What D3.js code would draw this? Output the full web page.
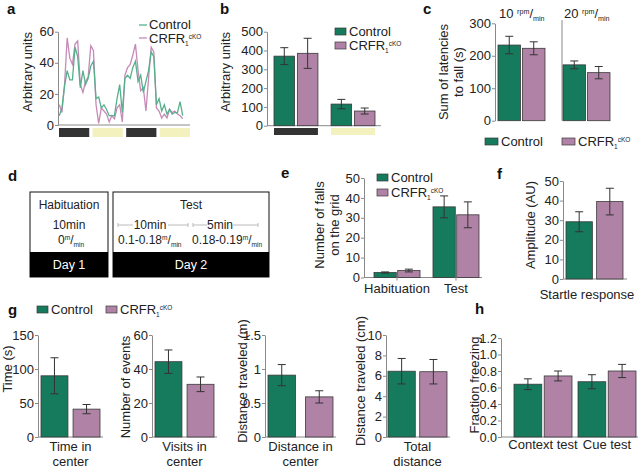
<!DOCTYPE html>
<html><head><meta charset="utf-8">
<script src="https://cdn.jsdelivr.net/npm/d3@7"></script>
<style>body{margin:0;background:#fff} svg{font-family:"Liberation Sans", Arial, sans-serif}</style>
</head><body><svg id="fig" width="640" height="471"></svg>
<script>
// ---------------- DATA ----------------
const groups = ["Control", "CRFR1cKO"];
// panel a: activity traces (48 bins across 4 phases)
const traceControl = [6,11,25,35,29,29,50,44,24,35,26,30,
                      38,41,17,18,11,13,10,6,6,6,17,26,
                      8,30,32,30,37,41,28,32,21,28,35,47,
                      44,13,17,9,13,7,10,7,8,8,15,6];
const traceCko =     [13,8,26,56,43,39,52,54,26,21,28,31,
                      51,48,13,1,11,9,7,2,6,4,11,13,
                      2,32,37,39,45,52,35,22,24,9,30,50,
                      47,11,9,4.5,7,4.5,10,8,9,7,6,4];
const aTicks = [0,20,40,60];
const phases = ["dark1","light1","dark2","light2"];
const phaseFill = ["#333333","#f3f1bd","#333333","#f3f1bd"];
// panel b
const bCategories = ["Dark","Light"];
const bControl = [370,115], bControlErr = [45,25];
const bCko = [385,78], bCkoErr = [80,16];
const bTicks = [0,100,200,300,400,500];
// panel c
const cCategories = ["10","20"];
const cControl = [233,172], cControlErr = [27,12];
const cCko = [223,148], cCkoErr = [20,19];
const cTicks = [0,100,200,300];
// panel e
const eCategories = ["Habituation","Test"];
const eControl = [2.5,35.5], eControlErr = [0.3,5.5];
const eCko = [3.5,31.5], eCkoErr = [0.7,6.5];
const eTicks = [0,10,20,30,40,50];
// panel f
const fCategories = ["Startle response"];
const fControl = [29.2], fControlErr = [5.1];
const fCko = [39.5], fCkoErr = [6.8];
const fTicks = [0,10,20,30,40,50];
// panel g
const g1Control = [90], g1ControlErr = [26.5], g1Cko = [41], g1CkoErr = [6.8];
const g1Ticks = [0,50,100,150];
const g2Control = [44.3], g2ControlErr = [6.9], g2Cko = [31], g2CkoErr = [4.3];
const g2Ticks = [0,20,40,60];
const g3Control = [0.91], g3ControlErr = [0.155], g3Cko = [0.59], g3CkoErr = [0.09];
const g3Ticks = [0,0.5,1,1.5];
const g4Control = [6.45], g4ControlErr = [1.25], g4Cko = [6.4], g4CkoErr = [1.2];
const g4Ticks = [0,2,4,6,8,10];
// panel h
const hCategories = ["Context test","Cue test"];
const hControl = [0.64,0.67], hControlErr = [0.065,0.085];
const hCko = [0.74,0.80], hCkoErr = [0.06,0.08];
const hTicks = [0,0.2,0.4,0.6,0.8,1.0,1.2];

// ---------------- STYLE ----------------
const FONT = "Liberation Sans, Arial, sans-serif";
const fillOf = {"Control":"#167a5d", "CRFR1cKO":"#b083a6"};
const lineOf = {"Control":"#56b08c", "CRFR1cKO":"#c68ab7"};
const AX = "#8a8a8a";
const TXT = "#222";
const svg = d3.select("#fig");

function txt(x, y, s, opt = {}) {
  return svg.append("text").attr("x", x).attr("y", y).text(s)
    .attr("font-size", opt.size || 13).attr("fill", opt.fill || TXT)
    .attr("text-anchor", opt.anchor || "start")
    .attr("font-weight", opt.weight || "normal");
}
function letter(x, y, s) { txt(x, y, s, {size: 15, weight: "bold", fill: "#111"}); }
function crfr(t, size) {
  t.text(null);
  t.append("tspan").text("CRFR");
  t.append("tspan").attr("font-size", size * 0.5).attr("dy", 3).text("1");
  t.append("tspan").attr("font-size", size * 0.5).attr("dy", -7.5).text("cKO");
}
function unit(t, sup, sub, size) {
  t.append("tspan").attr("font-size", size * 0.55).attr("dy", -4).text(sup);
  t.append("tspan").attr("font-size", size).attr("dy", 4).text("/");
  t.append("tspan").attr("font-size", size * 0.55).attr("dy", 3).text(sub);
}
function ylabel(cx, cy, lines, size = 13) {
  const t = svg.append("text").attr("transform", `translate(${cx},${cy}) rotate(-90)`)
    .attr("text-anchor", "middle").attr("font-size", size).attr("fill", TXT);
  const n = lines.length;
  lines.forEach((l, i) => {
    t.append("tspan").attr("x", 0).attr("y", (i - (n - 1) / 2) * 15).attr("dy", "0.35em").text(l);
  });
}
function yAxis(x, scale, ticks, fmt, size = 13) {
  const ax = svg.append("g").attr("transform", `translate(${x},0)`)
    .call(d3.axisLeft(scale).tickValues(ticks).tickFormat(fmt || d3.format("d"))
      .tickSize(3).tickSizeOuter(0).tickPadding(1));
  ax.attr("font-size", size).attr("font-family", FONT);
  ax.select(".domain").attr("stroke", AX);
  ax.selectAll(".tick line").attr("stroke", AX);
  ax.selectAll(".tick text").attr("fill", TXT);
  return ax;
}
function baseline(x0, x1, y) {
  svg.append("line").attr("x1", x0).attr("x2", x1).attr("y1", y).attr("y2", y).attr("stroke", AX);
}
function bars(cats, range, padInner, padBar, y, ctrl, ctrlErr, cko, ckoErr) {
  const outer = d3.scaleBand().domain(cats).range(range).paddingInner(padInner).paddingOuter(0);
  const inner = d3.scaleBand().domain(groups).range([0, outer.bandwidth()]).paddingInner(padBar).paddingOuter(0);
  const data = cats.flatMap((c, i) => [
    {c, grp: groups[0], v: ctrl[i], e: ctrlErr[i]},
    {c, grp: groups[1], v: cko[i], e: ckoErr[i]}]);
  const g = svg.append("g");
  g.selectAll("rect").data(data).join("rect")
    .attr("x", d => outer(d.c) + inner(d.grp)).attr("width", inner.bandwidth())
    .attr("y", d => y(d.v)).attr("height", d => y(0) - y(d.v))
    .attr("fill", d => fillOf[d.grp]).attr("stroke", "#3a3a3a").attr("stroke-width", 0.8);
  const eb = g.selectAll("g.eb").data(data).join("g").attr("class", "eb")
    .attr("transform", d => `translate(${outer(d.c) + inner(d.grp) + inner.bandwidth() / 2},0)`);
  eb.append("line").attr("y1", d => y(d.v - d.e)).attr("y2", d => y(d.v + d.e)).attr("stroke", "#333");
  eb.append("line").attr("x1", -4).attr("x2", 4).attr("y1", d => y(d.v + d.e)).attr("y2", d => y(d.v + d.e)).attr("stroke", "#333");
  eb.append("line").attr("x1", -4).attr("x2", 4).attr("y1", d => y(d.v - d.e)).attr("y2", d => y(d.v - d.e)).attr("stroke", "#333");
  return {outer, inner};
}
function legendSquares(items) {
  items.forEach(it => {
    svg.append("rect").attr("x", it.x).attr("y", it.y - 8).attr("width", it.w || 11).attr("height", 7)
      .attr("fill", fillOf[it.grp]).attr("stroke", "#3a3a3a").attr("stroke-width", 0.7);
    const t = txt(it.x + (it.w || 11) + 3, it.y, it.grp);
    if (it.grp !== "Control") crfr(t, 13);
  });
}

// ---------------- PANEL a ----------------
letter(7, 14, "a");
{
  const x = d3.scaleLinear().domain([0, traceControl.length - 1]).range([59.3, 182.7]);
  const y = d3.scaleLinear().domain([0, 60]).range([125, 31.7]);
  yAxis(58, y, aTicks);
  baseline(58, 190, 125);
  const line = d3.line().x((d, i) => x(i)).y(d => y(d));
  svg.append("path").datum(traceCko).attr("d", line).attr("fill", "none").attr("stroke", lineOf["CRFR1cKO"]).attr("stroke-width", 1.3);
  svg.append("path").datum(traceControl).attr("d", line).attr("fill", "none").attr("stroke", lineOf["Control"]).attr("stroke-width", 1.3);
  const px = d3.scaleBand().domain(phases).range([59, 190]).paddingInner(0.1);
  svg.selectAll("rect.ph").data(phases).join("rect").attr("class", "ph")
    .attr("x", d => px(d)).attr("width", px.bandwidth()).attr("y", 128).attr("height", 9)
    .attr("fill", (d, i) => phaseFill[i]);
  ylabel(27, 72, ["Arbitrary units"]);
  [["Control", 29, 25], ["CRFR1cKO", 43, 38]].forEach(([g, ty, ly]) => {
    svg.append("line").attr("x1", 139).attr("x2", 147).attr("y1", ly).attr("y2", ly).attr("stroke", lineOf[g]).attr("stroke-width", 1.3);
    const t = txt(149, ty, g);
    if (g !== "Control") crfr(t, 13);
  });
}

// ---------------- PANEL b ----------------
letter(220, 14, "b");
{
  const y = d3.scaleLinear().domain([0, 500]).range([125.7, 31.7]);
  yAxis(267, y, bTicks);
  baseline(267, 381, 125.7);
  const {outer} = bars(bCategories, [274, 375], 0.23, 0.12, y, bControl, bControlErr, bCko, bCkoErr);
  svg.selectAll("rect.bp").data(bCategories).join("rect").attr("class", "bp")
    .attr("x", d => outer(d)).attr("width", outer.bandwidth()).attr("y", 128).attr("height", 7)
    .attr("fill", (d, i) => i === 0 ? "#333" : "#f3f1bd");
  ylabel(225, 72, ["Arbitrary units"]);
  legendSquares([{grp: "Control", x: 335, y: 36}, {grp: "CRFR1cKO", x: 335, y: 50}]);
}

// ---------------- PANEL c ----------------
letter(423, 14, "c");
{
  const y = d3.scaleLinear().domain([0, 300]).range([120.7, 23.3]);
  yAxis(495, y, cTicks);
  svg.append("line").attr("x1", 562).attr("x2", 562).attr("y1", 20).attr("y2", 120.7).attr("stroke", AX);
  const {outer} = bars(cCategories, [498, 610], 0.277, 0.08, y, cControl, cControlErr, cCko, cCkoErr);
  cCategories.forEach(c => {
    const t = txt(outer(c) + 1, 18, c + " ");
    unit(t, "rpm", "min", 13);
  });
  ylabel(451, 72, ["Sum of latencies", "to fall (s)"]);
  legendSquares([{grp: "Control", x: 485, y: 146, w: 13}, {grp: "CRFR1cKO", x: 562, y: 146, w: 13}]);
}

// ---------------- PANEL d ----------------
letter(8, 181, "d");
{
  const boxes = [{x: 30, w: 78, day: "Day 1"}, {x: 113, w: 156, day: "Day 2"}];
  boxes.forEach(b => {
    svg.append("rect").attr("x", b.x).attr("y", 192).attr("width", b.w).attr("height", 85).attr("fill", "#fff").attr("stroke", "#111");
    svg.append("rect").attr("x", b.x).attr("y", 252).attr("width", b.w).attr("height", 25).attr("fill", "#000");
    txt(b.x + b.w / 2, 269, b.day, {anchor: "middle", fill: "#fff", size: 12.5});
  });
  txt(69, 209, "Habituation", {anchor: "middle", size: 12});
  txt(69, 229, "10min", {anchor: "middle", size: 12});
  const z = txt(58, 244, "0", {size: 12});
  unit(z, "m", "min", 12);
  txt(191, 209, "Test", {anchor: "middle", size: 12});
  txt(150, 229, "10min", {anchor: "middle", size: 12});
  txt(220, 229, "5min", {anchor: "middle", size: 12});
  const segs = [[118, 133], [168, 188], [193, 207], [233, 258]];
  segs.forEach(s => svg.append("line").attr("x1", s[0]).attr("x2", s[1]).attr("y1", 225).attr("y2", 225).attr("stroke", "#bbb"));
  [118, 188, 193, 258].forEach(xx => svg.append("line").attr("x1", xx).attr("x2", xx).attr("y1", 223).attr("y2", 227).attr("stroke", "#bbb"));
  const s1 = txt(118, 244, "0.1-0.18", {size: 12});
  unit(s1, "m", "min", 12);
  const s2 = txt(192, 244, "0.18-0.19", {size: 12});
  unit(s2, "m", "min", 12);
}

// ---------------- PANEL e ----------------
letter(281, 178, "e");
{
  const y = d3.scaleLinear().domain([0, 50]).range([277.5, 178]);
  yAxis(364, y, eTicks);
  baseline(364, 482, 277.5);
  const {outer} = bars(eCategories, [374, 479], 0.22, 0.06, y, eControl, eControlErr, eCko, eCkoErr);
  eCategories.forEach(c => {
    const cx = outer(c) + outer.bandwidth() / 2;
    svg.append("line").attr("x1", cx).attr("x2", cx).attr("y1", 277.5).attr("y2", 280.5).attr("stroke", AX);
    txt(cx, 293, c, {anchor: "middle"});
  });
  ylabel(327, 225, ["Number of falls", "on the grid"]);
  legendSquares([{grp: "Control", x: 377, y: 182}, {grp: "CRFR1cKO", x: 377, y: 197}]);
}

// ---------------- PANEL f ----------------
letter(497, 179, "f");
{
  const y = d3.scaleLinear().domain([0, 50]).range([279, 181]);
  yAxis(563, y, fTicks);
  baseline(563, 627, 279);
  bars(fCategories, [566, 623], 0, 0.14, y, fControl, fControlErr, fCko, fCkoErr);
  txt(587, 299, fCategories[0], {anchor: "middle"});
  ylabel(530, 225, ["Amplitude (AU)"]);
}

// ---------------- PANEL g ----------------
letter(8, 315, "g");
legendSquares([{grp: "Control", x: 37, y: 314}, {grp: "CRFR1cKO", x: 106, y: 314}]);
{
  const mk = (ax, range, pad, dom, ticks, fmt, c, ce, k, ke, lab, xl, yl) => {
    const y = d3.scaleLinear().domain(dom).range([437, 335]);
    yAxis(ax, y, ticks, fmt);
    baseline(ax, range[1] + 3, 437);
    bars(["x"], range, 0, pad, y, c, ce, k, ke);
    const cx = (range[0] + range[1]) / 2;
    txt(cx, 451, lab[0], {anchor: "middle"});
    txt(cx, 466, lab[1], {anchor: "middle"});
    ylabel(xl, yl, [lab[2]]);
  };
  mk(38, [41, 100], 0.16, [0, 150], g1Ticks, d3.format("d"), g1Control, g1ControlErr, g1Cko, g1CkoErr, ["Time in", "center", "Time (s)"], 7, 369);
  mk(152, [155, 214], 0.16, [0, 60], g2Ticks, d3.format("d"), g2Control, g2ControlErr, g2Cko, g2CkoErr, ["Visits in", "center", "Number of events"], 125, 387);
  mk(265, [268, 333], 0.267, [0, 1.5], g3Ticks, d => String(d), g3Control, g3ControlErr, g3Cko, g3CkoErr, ["Distance in", "center", "Distance traveled (m)"], 242, 381);
  mk(386, [388, 447], 0.14, [0, 10], g4Ticks, d3.format("d"), g4Control, g4ControlErr, g4Cko, g4CkoErr, ["Total", "distance", "Distance traveled (cm)"], 360, 381);
}

// ---------------- PANEL h ----------------
letter(475, 314, "h");
{
  const y = d3.scaleLinear().domain([0, 1.2]).range([437, 338]);
  yAxis(501, y, hTicks, d3.format(".1f"), 12.5);
  baseline(501, 638, 437);
  const {outer} = bars(hCategories, [514, 636], 0.094, 0.08, y, hControl, hControlErr, hCko, hCkoErr);
  hCategories.forEach(c => txt(outer(c) + outer.bandwidth() / 2, 449, c, {anchor: "middle"}));
  ylabel(474, 385, ["Fraction freezing"]);
}
</script></body></html>
